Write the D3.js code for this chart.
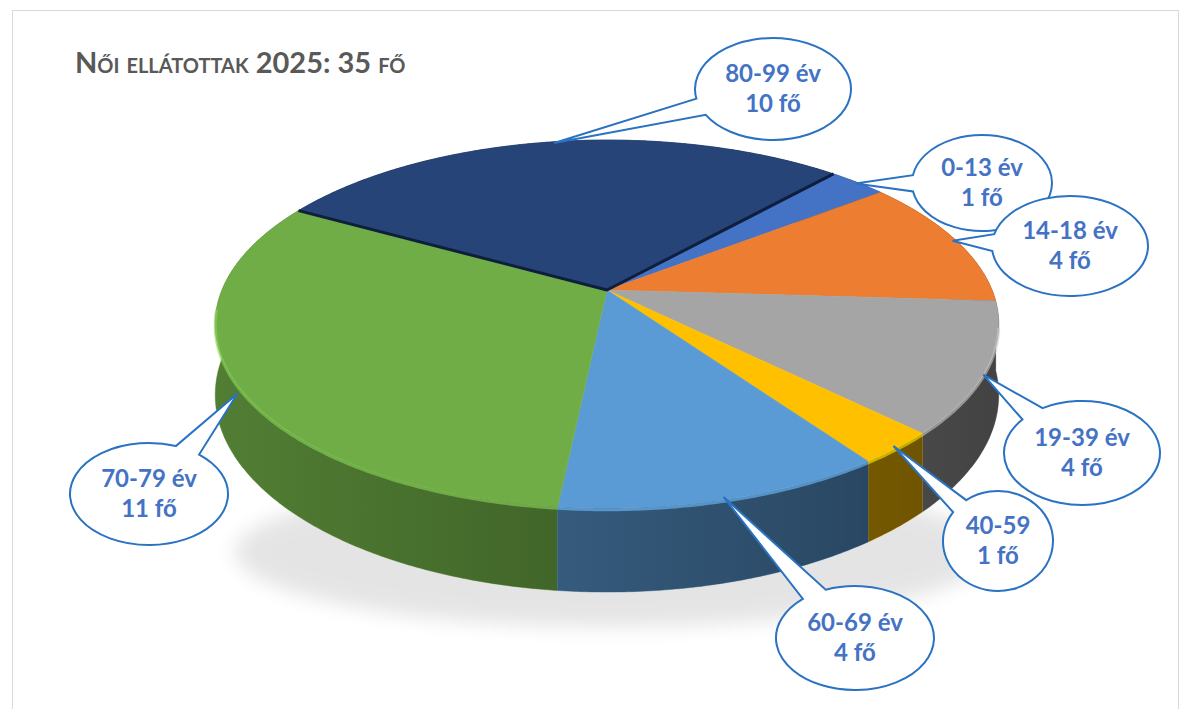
<!DOCTYPE html>
<meta charset="utf-8">
<style>
body { margin: 0; background: #fff; font-family: Lato, "Open Sans", sans-serif; }
svg { display: block; }
</style>
<body>
<div id="chart"></div>
<script src="https://cdn.jsdelivr.net/npm/d3@7"></script>
<script>

// data
var categories = ["0-13 év", "14-18 év", "19-39 év", "40-59", "60-69 év", "70-79 év", "80-99 év"];
var values = [1, 4, 4, 1, 4, 11, 10];
var unit = "fő";
var colors = ["#4472C4", "#ED7D31", "#A5A5A5", "#FFC000", "#5B9BD5", "#70AD47", "#264478"];
var titleText = "Női ellátottak 2025: 35 fő";

// callout bubble layout (centre, radii, where the pointer touches the pie)
var bubbles = [
  {cx: 982, cy: 183, rx: 70, ry: 48, depth: 0},
  {cx: 1070, cy: 246, rx: 78, ry: 50, depth: 0},
  {cx: 1082, cy: 453, rx: 78, ry: 52, depth: 0.1},
  {cx: 998, cy: 541, rx: 55, ry: 50, depth: 0},
  {cx: 855, cy: 638, rx: 79, ry: 52, depth: 0},
  {cx: 149, cy: 494, rx: 79, ry: 51, depth: 0.2},
  {cx: 773, cy: 89, rx: 78, ry: 51, depth: 0}
];

var W = 1190, H0 = 709;

var svg = d3.select("#chart").append("svg")
  .attr("width", W)
  .attr("height", H0);

var defs = svg.append("defs");

defs.append("filter").attr("id", "blur")
  .attr("x", "-20%").attr("y", "-50%").attr("width", "140%").attr("height", "200%")
  .append("feGaussianBlur").attr("stdDeviation", 10);

var grad = defs.append("linearGradient")
  .attr("id", "wallShade")
  .attr("gradientUnits", "userSpaceOnUse")
  .attr("x1", 215).attr("x2", 1000).attr("y1", 0).attr("y2", 0);
grad.append("stop").attr("offset", 0).attr("stop-color", "#000").attr("stop-opacity", 0.1);
grad.append("stop").attr("offset", 0.5).attr("stop-color", "#000").attr("stop-opacity", 0.3);
grad.append("stop").attr("offset", 1).attr("stop-color", "#000").attr("stop-opacity", 0.5);

// chart border
svg.append("rect")
  .attr("x", 12.5).attr("y", 10.5)
  .attr("width", 1166).attr("height", 720)
  .attr("fill", "none")
  .attr("stroke", "#d9d9d9");

// title
svg.append("text")
  .attr("x", 75).attr("y", 73)
  .attr("fill", "#595959")
  .style("font-family", "Lato, sans-serif")
  .style("font-weight", "bold")
  .style("font-size", "29px")
  .style("font-variant", "small-caps")
  .text(titleText);

// 3d pie projection
var pcx = 607, pcy = 290;
var k = 0.185, A = 385, B = 177.7, depthH = 68.5;

function proj(a, r, d) {
  var u = r * Math.sin(a), v = -r * Math.cos(a);
  var s = 1 / (1 - k * v);
  return [pcx + A * u * s, pcy + (B * v + depthH * d) * s];
}

function rimPoints(a0, a1, d) {
  var n = Math.max(2, Math.ceil((a1 - a0) / 0.01));
  return d3.range(n + 1).map(function(i) {
    return proj(a0 + (a1 - a0) * i / n, 1, d);
  });
}

var startA = 42 * Math.PI / 180;
var pie = d3.pie().sort(null).value(function(d) { return d; })
  .startAngle(startA).endAngle(startA + 2 * Math.PI);
var arcs = pie(values);

var line = d3.line();

// shadow
var sh = proj(Math.PI, 1, 1);
svg.append("ellipse")
  .attr("cx", pcx + 5).attr("cy", sh[1] - 40)
  .attr("rx", A * 0.98).attr("ry", 75)
  .attr("fill", "#000").attr("opacity", 0.1)
  .attr("filter", "url(#blur)");

// side walls, back first
var order = arcs.map(function(d, i) { return i; }).sort(function(a, b) {
  var ma = (arcs[a].startAngle + arcs[a].endAngle) / 2;
  var mb = (arcs[b].startAngle + arcs[b].endAngle) / 2;
  return -Math.cos(ma) - -Math.cos(mb);
});

var walls = svg.append("g");
order.forEach(function(i) {
  var d = arcs[i];
  var top = rimPoints(d.startAngle, d.endAngle, 0);
  var bot = rimPoints(d.startAngle, d.endAngle, 1).reverse();
  var pts = top.concat(bot);
  var base = d3.color(colors[i]).darker(0.6);
  walls.append("path")
    .attr("d", line(pts) + "Z")
    .attr("fill", base)
    .attr("stroke", base)
    .attr("stroke-width", 0.5);
  walls.append("path")
    .attr("d", line(pts) + "Z")
    .attr("fill", "url(#wallShade)");
});

// top faces
var tops = svg.append("g");
arcs.forEach(function(d, i) {
  var pts = [[pcx, pcy]].concat(rimPoints(d.startAngle, d.endAngle, 0));
  tops.append("path")
    .attr("d", line(pts) + "Z")
    .attr("fill", colors[i])
    .attr("stroke", colors[i])
    .attr("stroke-width", 0.5)
    .attr("stroke-linejoin", "round");
});

// dark edges of the 80-99 slice
var last = arcs[6];
tops.append("path")
  .attr("d", line([proj(last.startAngle, 1, 0), [pcx, pcy], proj(last.endAngle, 1, 0)]))
  .attr("fill", "none")
  .attr("stroke", "#0e1f3d")
  .attr("stroke-width", 3)
  .attr("stroke-linejoin", "round");

// bevel highlight on front rim
arcs.forEach(function(d, i) {
  var a0 = Math.max(d.startAngle, Math.PI / 2 + 0.2);
  var a1 = Math.min(d.endAngle, 3 * Math.PI / 2 - 0.1);
  if (a1 <= a0) return;
  tops.append("path")
    .attr("d", line(rimPoints(a0, a1, 0.02)))
    .attr("fill", "none")
    .attr("stroke", d3.color(colors[i]).brighter(0.6))
    .attr("stroke-opacity", 0.6)
    .attr("stroke-width", 3);
});

// callouts
var callouts = svg.append("g");
arcs.forEach(function(d, i) {
  var b = bubbles[i];
  var mid = (d.startAngle + d.endAngle) / 2;
  var tip = proj(mid, 0.99, b.depth);
  var th = Math.atan2((tip[1] - b.cy) / b.ry, (tip[0] - b.cx) / b.rx);
  var dl = 0.17;
  var p1 = [b.cx + b.rx * Math.cos(th + dl), b.cy + b.ry * Math.sin(th + dl)];
  var p2 = [b.cx + b.rx * Math.cos(th - dl), b.cy + b.ry * Math.sin(th - dl)];
  var path = "M" + p1[0] + "," + p1[1] +
    "A" + b.rx + "," + b.ry + " 0 1 1 " + p2[0] + "," + p2[1] +
    "L" + tip[0] + "," + tip[1] + "Z";
  callouts.append("path")
    .attr("d", path)
    .attr("fill", "#fff")
    .attr("stroke", "#2a72c2")
    .attr("stroke-width", 2)
    .attr("stroke-linejoin", "miter");

  var t = callouts.append("text")
    .attr("text-anchor", "middle")
    .attr("fill", "#4472C4")
    .style("font-family", "Lato, sans-serif")
    .style("font-weight", "bold")
    .style("font-size", "24px");
  t.append("tspan").attr("x", b.cx).attr("y", b.cy - 7).text(categories[i]);
  t.append("tspan").attr("x", b.cx).attr("y", b.cy + 23).text(values[i] + " " + unit);
});

</script>
</body>
